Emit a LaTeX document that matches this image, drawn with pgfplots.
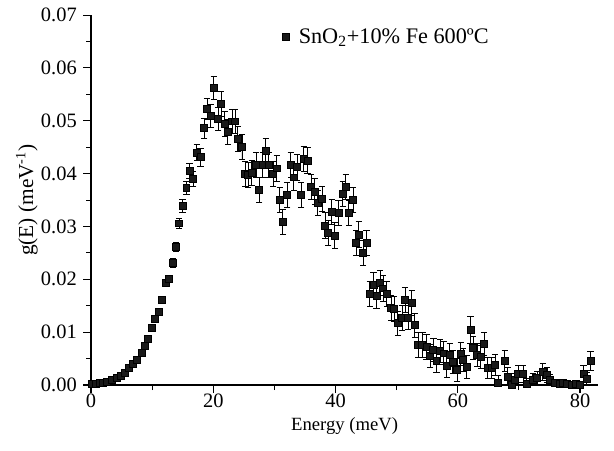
\documentclass[border=0pt]{standalone}
\usepackage{fontspec}
\setmainfont{Liberation Serif}
\usepackage{pgfplots}
\usepackage{pgfplotstable}
\pgfplotsset{compat=1.18}
\pgfplotstableread{
E g err
0.2 0.0002 0.0001
0.8 0.0003 0.0001
1.4 0.0004 0.0001
2.0 0.0005 0.0001
2.6 0.0006 0.0001
3.4 0.0009 0.0001
4.3 0.0013 0.0002
4.9 0.0017 0.0002
5.6 0.0023 0.0002
6.2 0.0032 0.0002
6.9 0.0040 0.0003
7.5 0.0047 0.0003
8.3 0.0061 0.0003
8.8 0.0075 0.0003
9.3 0.0087 0.0004
10.0 0.0108 0.0004
10.5 0.0126 0.0004
11.1 0.0138 0.0005
11.6 0.0161 0.0005
12.3 0.0193 0.0006
12.8 0.0201 0.0006
13.4 0.0231 0.0009
13.9 0.0261 0.0009
14.4 0.0306 0.0010
15.0 0.0339 0.0013
15.6 0.0373 0.0013
16.1 0.0405 0.0015
16.7 0.0390 0.0015
17.3 0.0440 0.0016
17.9 0.0431 0.0017
18.5 0.0486 0.0019
19.0 0.0522 0.0020
19.6 0.0509 0.0021
20.1 0.0562 0.0022
20.8 0.0503 0.0022
21.3 0.0532 0.0023
21.9 0.0494 0.0023
22.4 0.0479 0.0023
23.1 0.0499 0.0023
23.6 0.0499 0.0023
24.0 0.0465 0.0024
24.7 0.0450 0.0024
25.2 0.0399 0.0024
25.7 0.0397 0.0024
26.3 0.0401 0.0024
27.0 0.0416 0.0024
27.5 0.0369 0.0024
28.1 0.0416 0.0024
28.6 0.0443 0.0024
29.1 0.0416 0.0024
29.8 0.0399 0.0024
30.4 0.0410 0.0024
30.9 0.0350 0.0024
31.4 0.0308 0.0024
32.1 0.0360 0.0024
32.7 0.0416 0.0024
33.2 0.0393 0.0024
33.7 0.0412 0.0024
34.4 0.0360 0.0024
34.8 0.0428 0.0024
35.4 0.0425 0.0024
36.0 0.0375 0.0024
36.6 0.0366 0.0024
37.1 0.0344 0.0024
37.8 0.0352 0.0024
38.3 0.0302 0.0024
38.8 0.0288 0.0024
39.4 0.0328 0.0024
39.9 0.0283 0.0024
40.5 0.0325 0.0024
41.2 0.0361 0.0024
41.7 0.0375 0.0024
42.2 0.0325 0.0024
42.9 0.0350 0.0024
43.4 0.0269 0.0024
43.8 0.0285 0.0024
44.5 0.0250 0.0024
45.1 0.0269 0.0024
45.6 0.0172 0.0024
46.2 0.0189 0.0024
46.7 0.0168 0.0024
47.3 0.0193 0.0024
47.8 0.0183 0.0024
48.4 0.0172 0.0024
49.1 0.0146 0.0024
49.6 0.0144 0.0024
50.2 0.0117 0.0023
50.9 0.0127 0.0023
51.4 0.0161 0.0023
51.9 0.0128 0.0023
52.5 0.0155 0.0023
53.0 0.0113 0.0023
53.5 0.0076 0.0023
54.2 0.0076 0.0023
54.9 0.0072 0.0023
55.5 0.0055 0.0022
56.0 0.0066 0.0022
56.5 0.0046 0.0022
57.1 0.0064 0.0022
57.7 0.0060 0.0022
58.2 0.0036 0.0022
58.7 0.0057 0.0022
59.2 0.0044 0.0022
59.9 0.0028 0.0022
60.5 0.0059 0.0022
60.9 0.0047 0.0022
61.5 0.0034 0.0022
62.1 0.0104 0.0025
62.5 0.0070 0.0022
63.2 0.0057 0.0022
63.8 0.0053 0.0022
64.3 0.0078 0.0022
64.9 0.0032 0.0020
65.6 0.0032 0.0020
66.1 0.0038 0.0020
66.6 0.0004 0.0015
67.7 0.0045 0.0020
68.2 0.0015 0.0018
68.9 0.0001 0.0012
69.4 0.0010 0.0012
69.9 0.0021 0.0016
70.7 0.0021 0.0016
71.3 0.0002 0.0010
72.3 0.0010 0.0012
73.0 0.0013 0.0012
73.9 0.0025 0.0016
74.6 0.0019 0.0014
75.1 0.0010 0.0010
75.9 0.0004 0.0006
76.7 0.0002 0.0005
77.2 0.0004 0.0005
77.9 0.0002 0.0005
78.7 0.0001 0.0005
79.3 0.0002 0.0005
80.0 0.0001 0.0005
80.6 0.0021 0.0016
81.1 0.0012 0.0012
81.7 0.0045 0.0018
}\datatable
\begin{document}
\begin{tikzpicture}
\path[use as bounding box] (-51.2pt,-36.6pt) rectangle (294.2pt,216.6pt);
\begin{axis}[
  at={(0,0)}, anchor=south west,
  scale only axis,
  width=285.4pt, height=208.1pt,
  xmin=0, xmax=83, ymin=0, ymax=0.07,
  axis x line*=bottom, axis y line*=left,
  axis line style={-, black, line width=0.6pt},
  xtick={0,20,40,60,80},
  minor xtick={10,30,50,70},
  ytick={0,0.01,0.02,0.03,0.04,0.05,0.06,0.07},
  minor ytick={0.005,0.015,0.025,0.035,0.045,0.055,0.065},
  tick align=outside,
  major tick length=4.5pt, minor tick length=2.8pt,
  tick style={black, line width=0.6pt},
  scaled y ticks=false,
  yticklabel style={/pgf/number format/.cd, fixed, fixed zerofill, precision=2, assume math mode=true},
  xticklabel style={/pgf/number format/assume math mode=true, inner ysep=1pt, yshift=0.5pt},
  ticklabel style={font=\fontsize{11.5}{13}\selectfont},
  xlabel={Energy (meV)},
  ylabel={g(E) (meV\textsuperscript{-1})},
  xlabel style={font=\fontsize{10.5}{12}\selectfont, inner ysep=0.5pt, yshift=-3.5pt},
  ylabel style={font=\fontsize{12}{14}\selectfont, yshift=-5pt},
  legend style={at={(axis cs:31.2,0.0658)}, anchor=west, draw=none, fill=none, font=\fontsize{12.5}{14}\selectfont, inner sep=0pt},
  legend cell align=left,
  clip=true,
]
\addplot[only marks, mark=square*, mark size=1.95pt, color=black, fill=black!90,
  error bars/.cd, y dir=both, y explicit,
  error bar style={black, line width=0.55pt},
  error mark options={rotate=90, mark size=1.8pt, line width=0.55pt}]
  table[x=E, y=g, y error=err] {\datatable};
\addlegendentry{\hspace{3.5pt}SnO\textsubscript{2}+10\% Fe 600ºC}
\end{axis}
\end{tikzpicture}
\end{document}
